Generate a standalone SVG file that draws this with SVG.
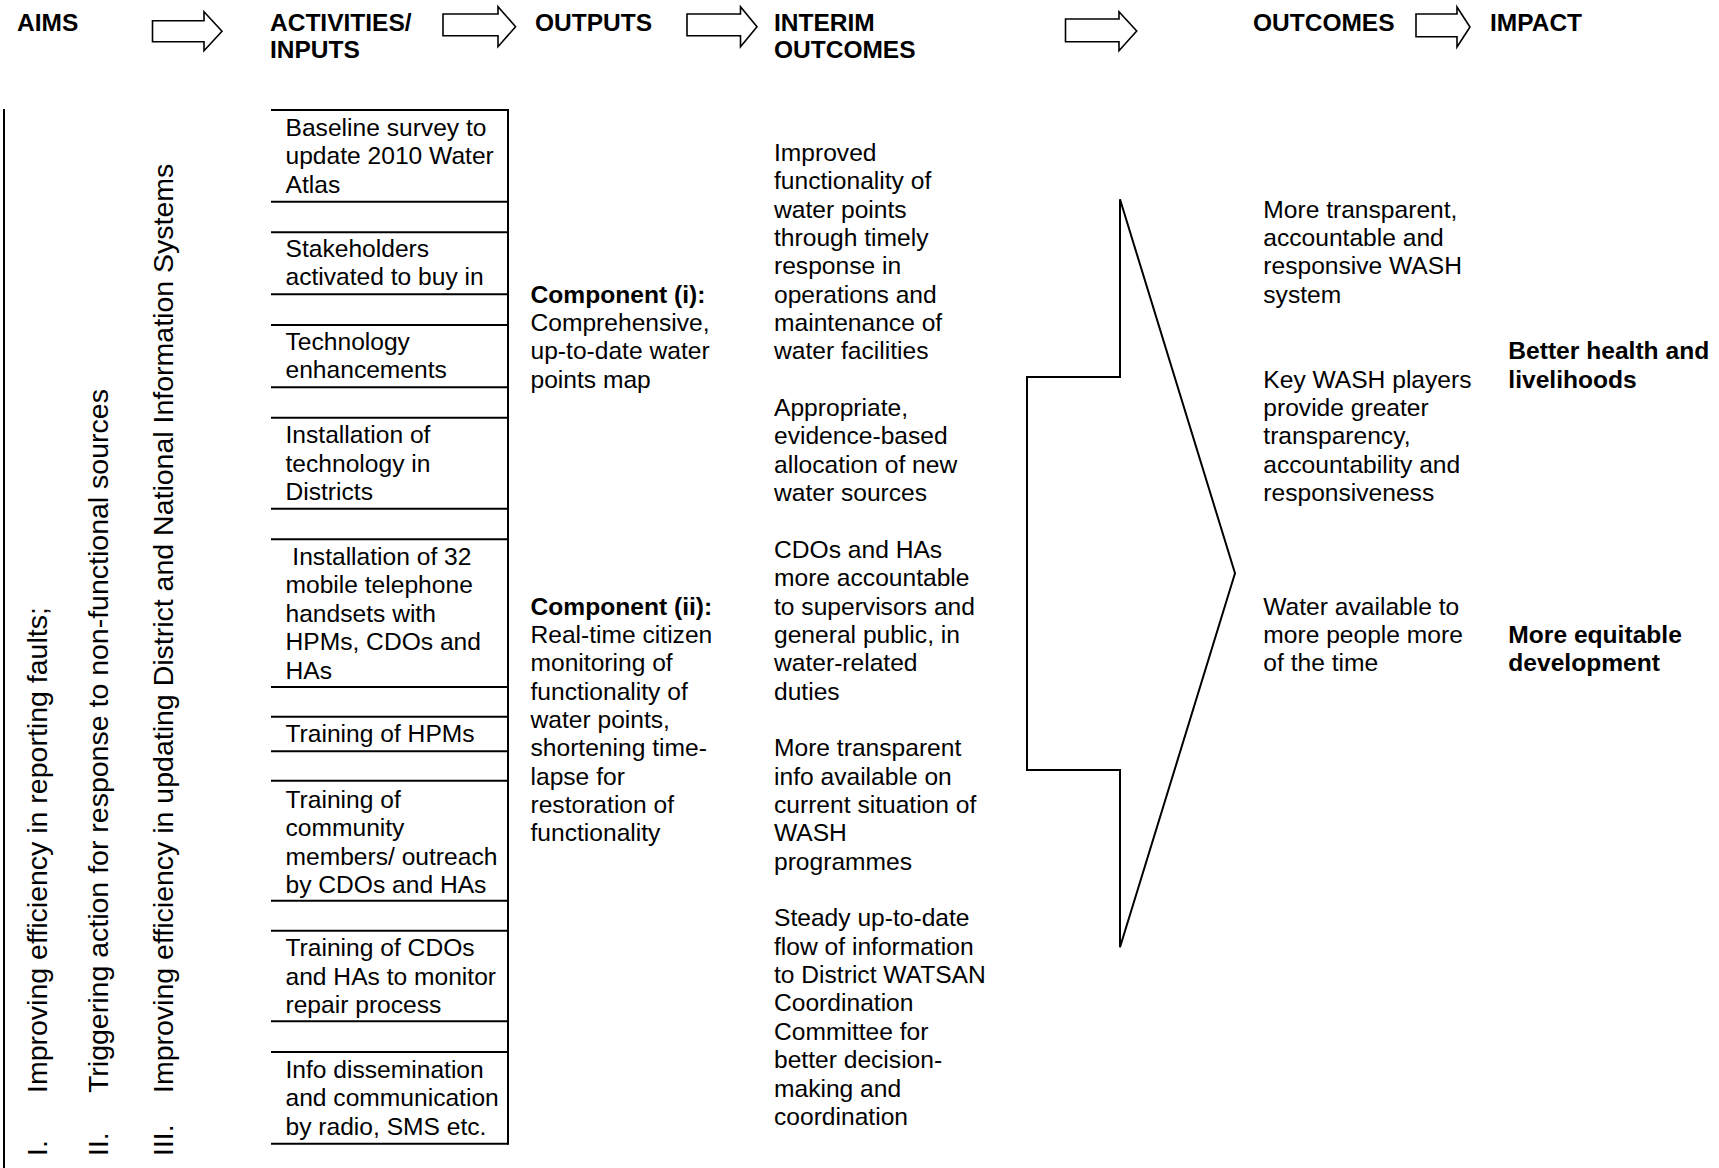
<svg xmlns="http://www.w3.org/2000/svg" width="1719" height="1168" viewBox="0 0 1719 1168">
<style>
text{font-family:"Liberation Sans",Arial,sans-serif;fill:#000}
.h{font-size:24.5px;font-weight:bold}
.t{font-size:24.6px}
.b{font-size:24.6px;font-weight:bold}
.r{font-size:28.5px}
.ln{stroke:#000;stroke-width:2;fill:none}
.ar{stroke:#000;stroke-width:1.6;fill:#fff;stroke-linejoin:miter}
</style>
<rect width="1719" height="1168" fill="#fff"/>

<g id="headers">
<g id="h-aims"><text class="h" x="17" y="30.7">AIMS</text></g>
<g id="h-activities"><text class="h" x="270" y="30.7">ACTIVITIES/</text><text class="h" x="270" y="58.3">INPUTS</text></g>
<g id="h-outputs"><text class="h" x="535" y="30.7">OUTPUTS</text></g>
<g id="h-interim"><text class="h" x="774" y="30.7">INTERIM</text><text class="h" x="774" y="58.3">OUTCOMES</text></g>
<g id="h-outcomes"><text class="h" x="1253" y="30.7">OUTCOMES</text></g>
<g id="h-impact"><text class="h" x="1490" y="30.7">IMPACT</text></g>
</g>

<g id="connectors">
<polygon class="ar" points="152.5,20.7 204,20.7 204,11.7 222,31.2 204,50.7 204,41.7 152.5,41.7"/>
<polygon class="ar" points="443,14 498,14 498,6.7 515.6,26.7 498,46.7 498,35.7 443,35.7"/>
<polygon class="ar" points="687,14 740.5,14 740.5,6.7 757,26.7 740.5,46.7 740.5,35.7 687,35.7"/>
<polygon class="ar" points="1065.5,19 1119,19 1119,11.7 1136.7,31 1119,50.7 1119,41.7 1065.5,41.7"/>
<polygon class="ar" points="1416,14 1457,14 1457,7 1470,27 1457,47 1457,36.7 1416,36.7"/>
</g>

<g id="aims">
<line class="ln" x1="4" y1="109" x2="4" y2="1168" stroke-width="2.5"/>
<text class="r" transform="translate(46.5,1156) rotate(-90)">I.</text>
<text class="r" transform="translate(46.5,1093) rotate(-90)">Improving efficiency in reporting faults;</text>
<text class="r" transform="translate(108,1156) rotate(-90)">II.</text>
<text class="r" transform="translate(108,1093) rotate(-90)">Triggering action for response to non-functional sources</text>
<text class="r" transform="translate(173,1156) rotate(-90)">III.</text>
<text class="r" transform="translate(173,1093) rotate(-90)">Improving efficiency in updating District and National Information Systems</text>
</g>

<g id="activities">
<g id="act-lines">
<line class="ln" x1="271" y1="110" x2="508" y2="110"/>
<line class="ln" x1="271" y1="201.7" x2="508" y2="201.7"/>
<line class="ln" x1="271" y1="232.3" x2="508" y2="232.3"/>
<line class="ln" x1="271" y1="294.3" x2="508" y2="294.3"/>
<line class="ln" x1="271" y1="325" x2="508" y2="325"/>
<line class="ln" x1="271" y1="387.3" x2="508" y2="387.3"/>
<line class="ln" x1="271" y1="417.7" x2="508" y2="417.7"/>
<line class="ln" x1="271" y1="508.7" x2="508" y2="508.7"/>
<line class="ln" x1="271" y1="539.3" x2="508" y2="539.3"/>
<line class="ln" x1="271" y1="687" x2="508" y2="687"/>
<line class="ln" x1="271" y1="716.7" x2="508" y2="716.7" stroke-width="1.4"/>
<line class="ln" x1="271" y1="751.3" x2="508" y2="751.3" stroke-width="1.4"/>
<line class="ln" x1="271" y1="780.7" x2="508" y2="780.7"/>
<line class="ln" x1="271" y1="900.7" x2="508" y2="900.7"/>
<line class="ln" x1="271" y1="930.7" x2="508" y2="930.7"/>
<line class="ln" x1="271" y1="1021.3" x2="508" y2="1021.3"/>
<line class="ln" x1="271" y1="1052" x2="508" y2="1052"/>
<line class="ln" x1="271" y1="1143.7" x2="508" y2="1143.7"/>
<line class="ln" x1="508" y1="109" x2="508" y2="1144.7" stroke-width="2.2"/>
</g>
<g id="act1"><text class="t" x="285.5" y="136">Baseline survey to</text><text class="t" x="285.5" y="164.4">update 2010 Water</text><text class="t" x="285.5" y="192.8">Atlas</text></g>
<g id="act2"><text class="t" x="285.5" y="256.7">Stakeholders</text><text class="t" x="285.5" y="285">activated to buy in</text></g>
<g id="act3"><text class="t" x="285.5" y="350">Technology</text><text class="t" x="285.5" y="378.4">enhancements</text></g>
<g id="act4"><text class="t" x="285.5" y="443.3">Installation of</text><text class="t" x="285.5" y="471.7">technology in</text><text class="t" x="285.5" y="500">Districts</text></g>
<g id="act5"><text class="t" x="285.5" y="565" xml:space="preserve"> Installation of 32</text><text class="t" x="285.5" y="593.4">mobile telephone</text><text class="t" x="285.5" y="621.8">handsets with</text><text class="t" x="285.5" y="650.2">HPMs, CDOs and</text><text class="t" x="285.5" y="678.6">HAs</text></g>
<g id="act6"><text class="t" x="285.5" y="742.3">Training of HPMs</text></g>
<g id="act7"><text class="t" x="285.5" y="808">Training of</text><text class="t" x="285.5" y="836.3">community</text><text class="t" x="285.5" y="864.7">members/ outreach</text><text class="t" x="285.5" y="893">by CDOs and HAs</text></g>
<g id="act8"><text class="t" x="285.5" y="956.3">Training of CDOs</text><text class="t" x="285.5" y="984.7">and HAs to monitor</text><text class="t" x="285.5" y="1013">repair process</text></g>
<g id="act9"><text class="t" x="285.5" y="1078">Info dissemination</text><text class="t" x="285.5" y="1106.3">and communication</text><text class="t" x="285.5" y="1134.7">by radio, SMS etc.</text></g>
</g>

<g id="outputs">
<g id="out1"><text class="b" x="530.5" y="302.7">Component (i):</text><text class="t" x="530.5" y="331">Comprehensive,</text><text class="t" x="530.5" y="359.4">up-to-date water</text><text class="t" x="530.5" y="387.7">points map</text></g>
<g id="out2"><text class="b" x="530.5" y="614.5">Component (ii):</text><text class="t" x="530.5" y="642.9">Real-time citizen</text><text class="t" x="530.5" y="671.2">monitoring of</text><text class="t" x="530.5" y="699.6">functionality of</text><text class="t" x="530.5" y="727.9">water points,</text><text class="t" x="530.5" y="756.3">shortening time-</text><text class="t" x="530.5" y="784.6">lapse for</text><text class="t" x="530.5" y="813">restoration of</text><text class="t" x="530.5" y="841.3">functionality</text></g>
</g>

<g id="interim">
<g id="int1"><text class="t" x="774" y="160.9">Improved</text><text class="t" x="774" y="189.3">functionality of</text><text class="t" x="774" y="217.6">water points</text><text class="t" x="774" y="246">through timely</text><text class="t" x="774" y="274.3">response in</text><text class="t" x="774" y="302.7">operations and</text><text class="t" x="774" y="331">maintenance of</text><text class="t" x="774" y="359.4">water facilities</text></g>
<g id="int2"><text class="t" x="774" y="416.1">Appropriate,</text><text class="t" x="774" y="444.4">evidence-based</text><text class="t" x="774" y="472.8">allocation of new</text><text class="t" x="774" y="501.1">water sources</text></g>
<g id="int3"><text class="t" x="774" y="557.8">CDOs and HAs</text><text class="t" x="774" y="586.2">more accountable</text><text class="t" x="774" y="614.5">to supervisors and</text><text class="t" x="774" y="642.9">general public, in</text><text class="t" x="774" y="671.2">water-related</text><text class="t" x="774" y="699.6">duties</text></g>
<g id="int4"><text class="t" x="774" y="756.3">More transparent</text><text class="t" x="774" y="784.6">info available on</text><text class="t" x="774" y="813">current situation of</text><text class="t" x="774" y="841.3">WASH</text><text class="t" x="774" y="869.7">programmes</text></g>
<g id="int5"><text class="t" x="774" y="926.4">Steady up-to-date</text><text class="t" x="774" y="954.7">flow of information</text><text class="t" x="774" y="983.1">to District WATSAN</text><text class="t" x="774" y="1011.4">Coordination</text><text class="t" x="774" y="1039.8">Committee for</text><text class="t" x="774" y="1068.1">better decision-</text><text class="t" x="774" y="1096.5">making and</text><text class="t" x="774" y="1124.8">coordination</text></g>
</g>

<g id="big-arrow">
<polygon points="1120,199.3 1235,573.3 1120,947.3 1120,770 1027,770 1027,377 1120,377" fill="#fff" stroke="#000" stroke-width="2"/>
</g>

<g id="outcomes">
<g id="oc1"><text class="t" x="1263.3" y="217.6">More transparent,</text><text class="t" x="1263.3" y="246">accountable and</text><text class="t" x="1263.3" y="274.3">responsive WASH</text><text class="t" x="1263.3" y="302.7">system</text></g>
<g id="oc2"><text class="t" x="1263.3" y="387.7">Key WASH players</text><text class="t" x="1263.3" y="416.1">provide greater</text><text class="t" x="1263.3" y="444.4">transparency,</text><text class="t" x="1263.3" y="472.8">accountability and</text><text class="t" x="1263.3" y="501.1">responsiveness</text></g>
<g id="oc3"><text class="t" x="1263.3" y="614.5">Water available to</text><text class="t" x="1263.3" y="642.9">more people more</text><text class="t" x="1263.3" y="671.2">of the time</text></g>
</g>

<g id="impact">
<g id="imp1"><text class="b" x="1508.3" y="359.4">Better health and</text><text class="b" x="1508.3" y="387.7">livelihoods</text></g>
<g id="imp2"><text class="b" x="1508.3" y="642.9">More equitable</text><text class="b" x="1508.3" y="671.2">development</text></g>
</g>
</svg>
